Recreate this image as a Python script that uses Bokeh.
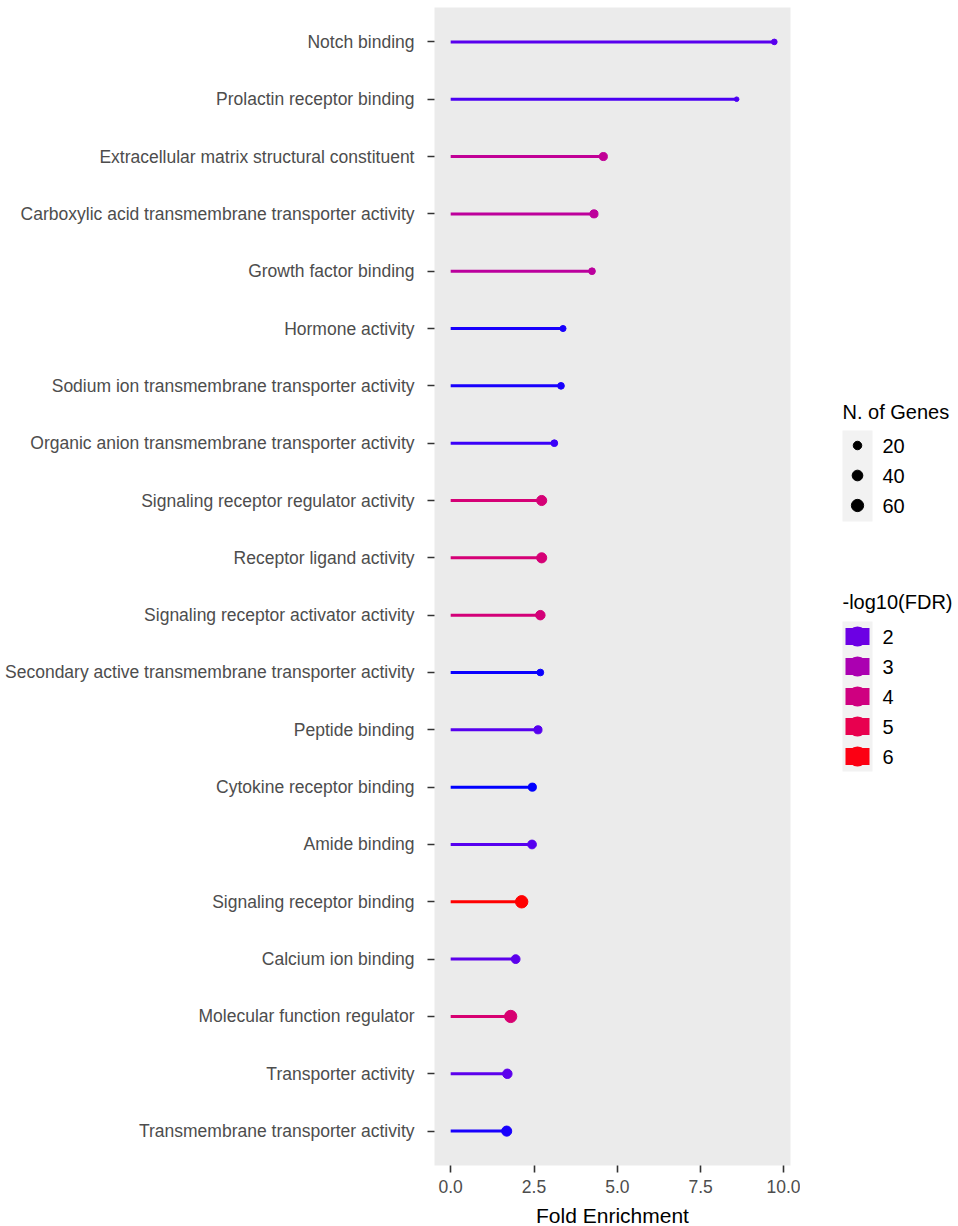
import math
from bokeh.plotting import figure
from bokeh.layouts import row
from bokeh.models import FactorRange, Range1d, FixedTicker, NumeralTickFormatter, ColumnDataSource, Label
from bokeh.embed import file_html
from bokeh.resources import INLINE

# ---------------- data ----------------
terms = [
    "Notch binding",
    "Prolactin receptor binding",
    "Extracellular matrix structural constituent",
    "Carboxylic acid transmembrane transporter activity",
    "Growth factor binding",
    "Hormone activity",
    "Sodium ion transmembrane transporter activity",
    "Organic anion transmembrane transporter activity",
    "Signaling receptor regulator activity",
    "Receptor ligand activity",
    "Signaling receptor activator activity",
    "Secondary active transmembrane transporter activity",
    "Peptide binding",
    "Cytokine receptor binding",
    "Amide binding",
    "Signaling receptor binding",
    "Calcium ion binding",
    "Molecular function regulator",
    "Transporter activity",
    "Transmembrane transporter activity",
]
fold_enrichment = [9.71, 8.58, 4.58, 4.30, 4.24, 3.37, 3.31, 3.11, 2.73, 2.73,
                   2.69, 2.69, 2.62, 2.45, 2.44, 2.13, 1.95, 1.80, 1.70, 1.68]
neg_log10_fdr = [1.82, 1.72, 3.55, 3.45, 3.40, 1.52, 1.52, 1.63, 4.20, 4.20,
                 4.15, 1.50, 1.80, 1.49, 1.80, 6.15, 1.85, 4.30, 1.85, 1.52]
n_genes = [7, 6, 17, 17, 10, 8, 10, 10, 34, 34,
           28, 10, 17, 17, 22, 62, 22, 60, 28, 34]

size_breaks = [20, 40, 60]
fdr_breaks = [2, 3, 4, 5, 6]
x_ticks = [0, 2.5, 5, 7.5, 10]

# ---------------- colour scale (Lab interpolation blue -> red) ----------------
def _lin(c):
    c = c / 255.0
    return c / 12.92 if c <= 0.04045 else ((c + 0.055) / 1.055) ** 2.4

def _delin(c):
    c = max(0.0, min(1.0, c))
    v = 12.92 * c if c <= 0.0031308 else 1.055 * c ** (1 / 2.4) - 0.055
    return int(round(max(0, min(1, v)) * 255))

def rgb_to_lab(rgb):
    r, g, b = (_lin(v) for v in rgb)
    X = (0.4124 * r + 0.3576 * g + 0.1805 * b) / 0.95047
    Y = (0.2126 * r + 0.7152 * g + 0.0722 * b)
    Z = (0.0193 * r + 0.1192 * g + 0.9505 * b) / 1.08883
    f = lambda t: t ** (1 / 3) if t > 216 / 24389 else (24389 / 27 * t + 16) / 116
    fx, fy, fz = f(X), f(Y), f(Z)
    return (116 * fy - 16, 500 * (fx - fy), 200 * (fy - fz))

def lab_to_hex(lab):
    L, a, b = lab
    fy = (L + 16) / 116
    fx = fy + a / 500
    fz = fy - b / 200
    inv = lambda t: t ** 3 if t ** 3 > 216 / 24389 else (116 * t - 16) / (24389 / 27)
    X, Y, Z = inv(fx) * 0.95047, inv(fy), inv(fz) * 1.08883
    r = 3.2406 * X - 1.5372 * Y - 0.4986 * Z
    g = -0.9689 * X + 1.8758 * Y + 0.0415 * Z
    bb = 0.0557 * X - 0.2040 * Y + 1.0570 * Z
    return "#%02x%02x%02x" % (_delin(r), _delin(g), _delin(bb))

LOW, HIGH = rgb_to_lab((0, 0, 255)), rgb_to_lab((255, 0, 0))
cmin, cmax = min(neg_log10_fdr), max(neg_log10_fdr)

def colour(v):
    t = (v - cmin) / (cmax - cmin)
    t = max(0.0, min(1.0, t))
    return lab_to_hex(tuple(LOW[i] + (HIGH[i] - LOW[i]) * t for i in range(3)))

nmin, nmax = min(n_genes), max(n_genes)
DMIN, DMAX = 4.6, 12.4

def diam(n):
    t = max(0.0, (n - nmin) / (nmax - nmin))
    return DMIN + (DMAX - DMIN) * math.sqrt(t)

FONT = "Liberation Sans"

src = ColumnDataSource(dict(
    term=terms, fe=fold_enrichment, zero=[0] * len(terms),
    col=[colour(v) for v in neg_log10_fdr],
    size=[diam(n) for n in n_genes],
))

span = max(fold_enrichment)
pad = span * 0.05
p = figure(
    frame_width=356, frame_height=1158,
    y_range=FactorRange(factors=terms[::-1], range_padding=0.1, range_padding_units="absolute"),
    x_range=Range1d(-pad, span + pad),
    output_backend="svg", toolbar_location=None,
    min_border_left=434, min_border_right=10, min_border_top=7, min_border_bottom=61,
)
p.background_fill_color = "#EBEBEB"
p.border_fill_color = "white"
p.outline_line_color = None
p.xgrid.visible = False
p.ygrid.visible = False

p.segment(x0="zero", y0="term", x1="fe", y1="term", line_color="col", line_width=3, source=src)
p.scatter(x="fe", y="term", size="size", fill_color="col", line_color="col", source=src)

for ax in (p.xaxis[0], p.yaxis[0]):
    ax.axis_line_color = None
    ax.major_tick_line_color = "#333333"
    ax.major_tick_line_width = 1.6
    ax.minor_tick_line_color = None
    ax.major_tick_in = 0
    ax.major_label_text_font = FONT
    ax.major_label_text_font_size = "17.5px"
    ax.major_label_text_color = "#4D4D4D"

p.yaxis.major_tick_out = 7
p.yaxis.major_label_standoff = 13
p.xaxis.major_tick_out = 7
p.xaxis.major_label_standoff = 7
p.xaxis.ticker = FixedTicker(ticks=x_ticks)
p.xaxis.formatter = NumeralTickFormatter(format="0.0")
p.xaxis.axis_label = "Fold Enrichment"
p.xaxis.axis_label_text_font = FONT
p.xaxis.axis_label_text_font_size = "21px"
p.xaxis.axis_label_text_font_style = "normal"
p.xaxis.axis_label_text_color = "black"
p.xaxis.axis_label_standoff = 8

# ---------------- legends (page pixel coordinates, y downward) ----------------
# the legend frame is aligned with the main frame, which starts 7 px below the top
TOP = 7
lg = figure(frame_width=158, frame_height=1226, x_range=Range1d(800, 958),
            y_range=Range1d(1226 + TOP, TOP),
            x_axis_location=None, y_axis_location=None, title=None,
            output_backend="svg", toolbar_location=None,
            min_border_left=0, min_border_right=0, min_border_top=0, min_border_bottom=0)
lg.grid.visible = False
lg.outline_line_color = None
lg.background_fill_color = "white"
lg.border_fill_color = "white"

KX = 857
# size legend
lg.add_layout(Label(x=842, y=411, text="N. of Genes", text_font=FONT, text_font_size="20px",
                    text_baseline="middle", text_color="black"))
s_y = [445 + 30 * i for i in range(len(size_breaks))]
lg.quad(left=[842], right=[872], top=[430], bottom=[521], fill_color="#F2F2F2", line_color=None)
lg.scatter(x=[KX] * len(size_breaks), y=s_y, size=[diam(n) for n in size_breaks],
           fill_color="black", line_color="black")
lg.text(x=[882] * len(size_breaks), y=s_y, text=[str(v) for v in size_breaks],
        text_font_size="20px", text_baseline="middle", text_color="black",
        text_font={"value": FONT})

# colour legend
lg.add_layout(Label(x=842, y=601, text="-log10(FDR)", text_font=FONT, text_font_size="20px",
                    text_baseline="middle", text_color="black"))
c_y = [636 + 30 * i for i in range(len(fdr_breaks))]
lg.quad(left=[842], right=[872], top=[621], bottom=[771], fill_color="#F2F2F2", line_color=None)
ccols = [colour(v) for v in fdr_breaks]
lg.rect(x=[KX] * len(fdr_breaks), y=c_y, width=24, height=17, fill_color=ccols, line_color=None)
lg.scatter(x=[KX] * len(fdr_breaks), y=c_y, size=20, fill_color=ccols, line_color=None)
lg.text(x=[882] * len(fdr_breaks), y=c_y, text=[str(v) for v in fdr_breaks],
        text_font_size="20px", text_baseline="middle", text_color="black",
        text_font={"value": FONT})

layout = row(p, lg, spacing=0)
open("out.html", "w").write(file_html(layout, INLINE))
